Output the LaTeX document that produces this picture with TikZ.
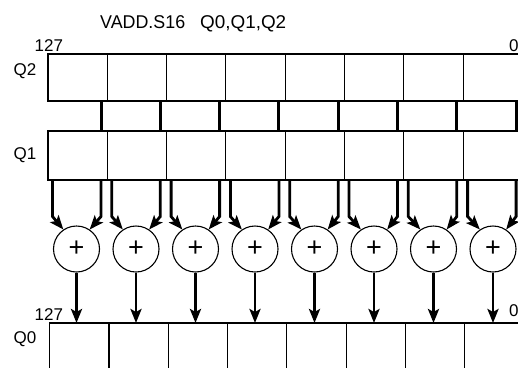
\documentclass[tikz,border=0pt]{standalone}
\usepackage{fontspec}
\usepackage{graphicx}
\setmainfont{Liberation Sans}
\usetikzlibrary{arrows.meta}
\begin{document}
\begin{tikzpicture}[x=1pt,y=-1pt,
  cell/.style={draw,line width=1.1pt,minimum width=59.3pt,inner sep=0pt,outer sep=0pt,anchor=north west},
  sep/.style={line width=3pt},
  adder/.style={draw,circle,line width=1.1pt,minimum size=46pt,inner sep=0pt,font=\fontsize{27}{29}\selectfont},
  flow/.style={line width=2.8pt,-{Stealth[length=14pt,width=11pt,inset=3pt]}},
  lbl/.style={font=\fontsize{17}{19}\selectfont,inner sep=0pt,anchor=base west}
]
\useasboundingbox (0,0) rectangle (518,367);
\clip (0,0) rectangle (518,367);
% title
\node[anchor=base west,inner sep=0pt,font=\fontsize{18.5}{20}\selectfont] (title) at (100,28.3)
  {\resizebox{85pt}{\height}{VADD.S16}\hspace{15pt}\resizebox{86pt}{\height}{Q0,Q1,Q2}};
% labels
\node[lbl] (l127a) at (34.5,51.7) {127};
\node[lbl] (l0a) at (509,51.7) {0};
\node[lbl] (lq2) at (13.5,75.5) {Q2};
\node[lbl] (lq1) at (13.5,159) {Q1};
\node[lbl] (l127b) at (34.5,320.7) {127};
\node[lbl] (l0b) at (509,316.7) {0};
\node[lbl] (lq0) at (13.5,343) {Q0};
% registers
\foreach \i in {0,...,7}{
  \node[cell,minimum height=47pt] (q2-\i) at ({48+59.3*\i},54) {};
  \node[cell,minimum height=49pt] (q1-\i) at ({48+59.3*\i},131) {};
  \node[cell,minimum height=60pt] (q0-\i) at ({49.7+59.3*\i},323) {};
}
% middle separators
\foreach \i in {0,...,7}{
  \draw[sep] ([xshift=-6.3pt]q2-\i.south east) -- ([xshift=-6.3pt]q1-\i.north east);
}
% adders and arrows
\foreach \i in {0,...,7}{
  \node[adder] (s\i) at ({76.5+59.5*\i},249) {+};
  \draw[flow] ([xshift=4.5pt]q1-\i.south west) -- ++(0,36.5) -- (s\i.124);
  \draw[flow] ([xshift=-6.3pt]q1-\i.south east) -- ++(0,36.5) -- (s\i.56);
  \draw[flow] (s\i.south) -- (s\i.south |- q0-\i.north);
}
\end{tikzpicture}
\end{document}
